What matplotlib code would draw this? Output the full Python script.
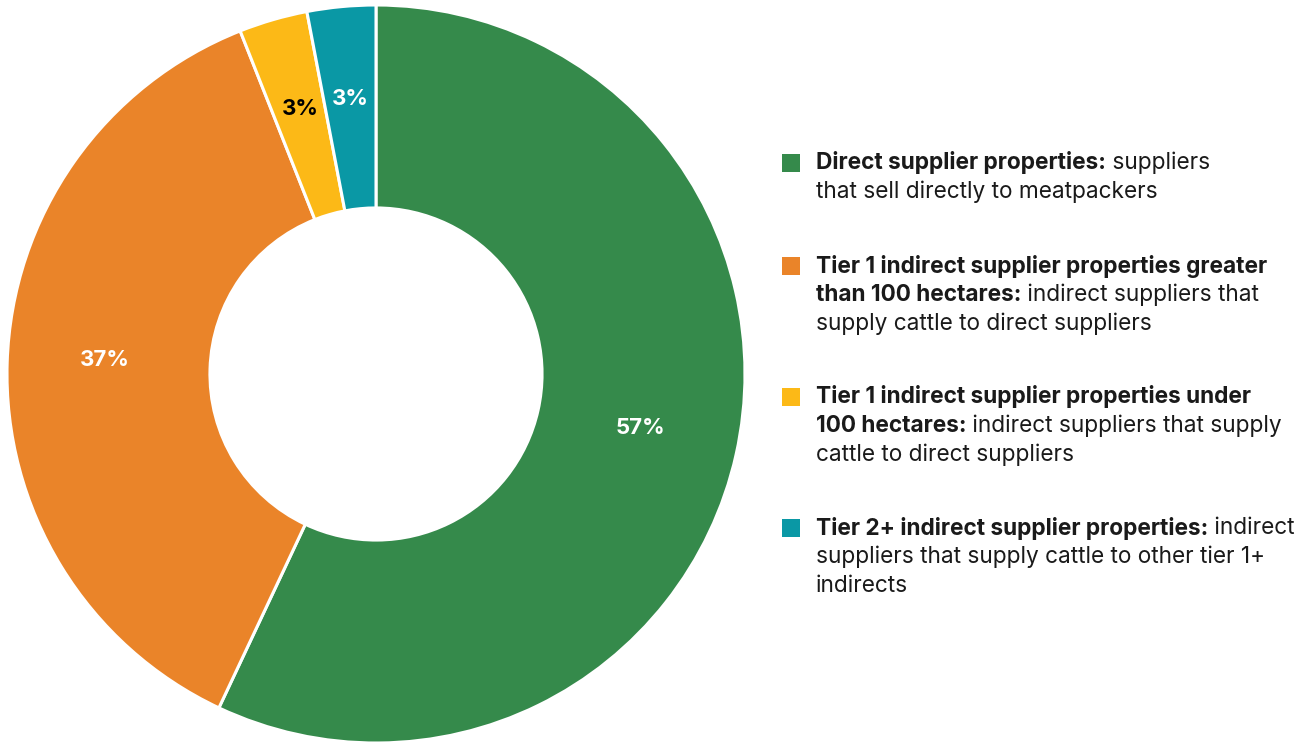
import matplotlib
matplotlib.use('Agg')
import matplotlib.pyplot as plt
from matplotlib.transforms import offset_copy

# slice data, clockwise from 12 o'clock
shares = [57, 37, 3, 3]
colors = ['#358A4B', '#EA8429', '#FCB917', '#0A98A5']
label_colors = ['white', 'white', 'black', 'white']

# legend entries: each line is a list of (text, bold) pieces
legend_items = [
    [[('Direct supplier properties:', True), (' suppliers', False)],
     [('that sell directly to meatpackers', False)]],
    [[('Tier 1 indirect supplier properties greater', True)],
     [('than 100 hectares:', True), (' indirect suppliers that', False)],
     [('supply cattle to direct suppliers', False)]],
    [[('Tier 1 indirect supplier properties under', True)],
     [('100 hectares:', True), (' indirect suppliers that supply', False)],
     [('cattle to direct suppliers', False)]],
    [[('Tier 2+ indirect supplier properties:', True), (' indirect', False)],
     [('suppliers that supply cattle to other tier 1+', False)],
     [('indirects', False)]],
]

plt.rcParams['font.family'] = ['Inter', 'DejaVu Sans']

W, H = 1312, 744
fig = plt.figure(figsize=(W / 100, H / 100), dpi=100)
ax = fig.add_axes([0, 0, 1, 1])

wedges, texts, autotexts = ax.pie(
    shares, colors=colors, startangle=90, counterclock=False,
    center=(376, 370), radius=369, frame=True,
    wedgeprops=dict(width=369 * 0.55, edgecolor='white', linewidth=2.2),
    autopct='%d%%', pctdistance=0.735,
    textprops=dict(fontsize=16, fontweight='bold'))
ax.set_xlim(0, W)
ax.set_ylim(0, H)
ax.set_aspect('equal')
ax.axis('off')

# nudge the percent labels up a few pixels
lift = offset_copy(ax.transData, fig=fig, y=5, units='dots')
for t, c in zip(autotexts, label_colors):
    t.set_color(c)
    t.set_transform(lift)

# legend drawn by hand so bold and regular can share a line
renderer = fig.canvas.get_renderer()
item_tops = [163, 266, 397, 528]
line_gap = 29
x_text = 816
for item, top, col in zip(legend_items, item_tops, colors):
    ax.add_patch(plt.Rectangle((782, H - top - 9), 18, 18, color=col, lw=0))
    for i, line in enumerate(item):
        y = H - (top + i * line_gap)
        x = x_text
        for seg, bold in line:
            t = ax.text(x, y, seg, fontsize=16.3, color='#1a1a1a',
                        fontweight='bold' if bold else 'normal',
                        va='center', ha='left')
            bb = t.get_window_extent(renderer)
            x += bb.width

fig.savefig('out.png', dpi=100, facecolor='white')
